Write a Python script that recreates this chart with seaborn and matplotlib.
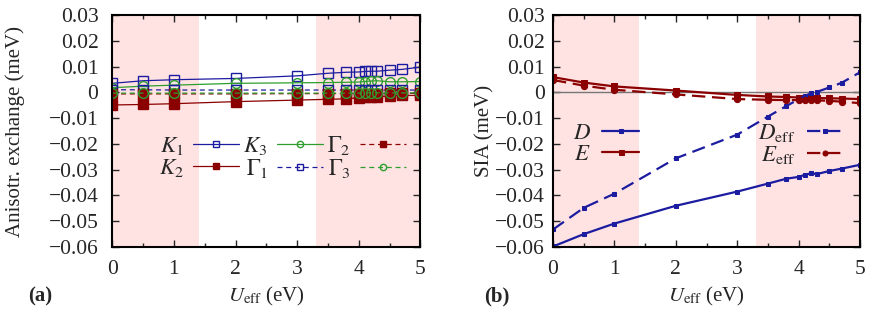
import matplotlib
matplotlib.use('Agg')
import matplotlib.pyplot as plt
import seaborn as sns
import pandas as pd
import numpy as np
from matplotlib.ticker import MultipleLocator, FixedLocator, FixedFormatter

# U_eff values (eV)
u_eff = [0, 0.5, 1, 2, 3, 3.5, 3.8, 4, 4.1, 4.2, 4.3, 4.5, 4.7, 5]

# panel (a): anisotropic exchange (meV)
k1 = [0.0035, 0.0045, 0.0049, 0.0054, 0.0064, 0.0074, 0.0078, 0.0079, 0.0081, 0.0082, 0.0082, 0.0086, 0.0089, 0.0098]
k2 = [-0.0049, -0.0047, -0.0044, -0.0036, -0.0030, -0.0027, -0.0025, -0.0021, -0.0019, -0.0018, -0.0017, -0.0014, -0.0012, -0.0012]
k3 = [0.0018, 0.0024, 0.0028, 0.0035, 0.0037, 0.0038, 0.0039, 0.0040, 0.0042, 0.0044, 0.0045, 0.0041, 0.0041, 0.0042]
gamma1 = [0.0010, 0.0010, 0.0009, 0.0009, 0.0009, 0.0009, 0.0009, 0.0009, 0.0009, 0.0009, 0.0009, 0.0009, 0.0009, 0.0009]
gamma2 = [-0.0006, -0.0006, -0.0006, -0.0006, -0.0005, -0.0005, -0.0005, -0.0005, -0.0005, -0.0005, -0.0005, -0.0004, -0.0004, -0.0004]
gamma3 = [-0.0003, -0.0003, -0.0003, -0.0003, -0.0003, -0.0003, -0.0003, -0.0003, -0.0002, -0.0002, -0.0002, -0.0002, -0.0002, -0.0002]

# panel (b): single-ion anisotropy (meV)
d_sia = [-0.0598, -0.0550, -0.0509, -0.0440, -0.0385, -0.0354, -0.0335, -0.0328, -0.0320, -0.0314, -0.0317, -0.0305, -0.0296, -0.0281]
e_sia = [0.0059, 0.0038, 0.0023, 0.0007, -0.0010, -0.0016, -0.0018, -0.0020, -0.0021, -0.0021, -0.0022, -0.0023, -0.0024, -0.0026]
d_eff = [-0.0532, -0.0448, -0.0393, -0.0256, -0.0164, -0.0094, -0.0053, -0.0027, -0.0014, -0.0004, 0.0002, 0.0019, 0.0037, 0.0078]
e_eff = [0.0048, 0.0026, 0.0010, -0.0008, -0.0026, -0.0029, -0.0030, -0.0030, -0.0031, -0.0031, -0.0031, -0.0033, -0.0036, -0.0042]

shaded = [(0, 1.4), (3.3, 5)]
y_ticks = [0.03, 0.02, 0.01, 0, -0.01, -0.02, -0.03, -0.04, -0.05, -0.06]
y_tick_labels = ['0.03', '0.02', '0.01', '0', '\u22120.01', '\u22120.02', '\u22120.03',
                 '\u22120.04', '\u22120.05', '\u22120.06']

sns.set_style('ticks')
plt.rcParams['font.family'] = ['Liberation Serif', 'DejaVu Serif']
plt.rcParams['mathtext.fontset'] = 'stix'
plt.rcParams['font.size'] = 15

BLUE = '#1c1ca0'
RED = '#8b0000'
GREEN = '#2e9e2e'
PINK = '#ffe3e3'

fig = plt.figure(figsize=(8.72, 3.21), dpi=100)
ax_a = fig.add_axes([0.1288, 0.2305, 0.3532, 0.7227])
ax_b = fig.add_axes([0.6342, 0.2305, 0.3521, 0.7227])

df = pd.DataFrame({'U': u_eff, 'K1': k1, 'K2': k2, 'K3': k3, 'G1': gamma1, 'G2': gamma2,
                   'G3': gamma3, 'D': d_sia, 'E': e_sia, 'Deff': d_eff, 'Eeff': e_eff})


def style_axes(ax, ypad):
    for lo, hi in shaded:
        ax.axvspan(lo, hi, color=PINK, lw=0, zorder=0)
    ax.set_xlim(0, 5)
    ax.set_ylim(-0.06, 0.03)
    ax.xaxis.set_major_locator(MultipleLocator(1))
    ax.xaxis.set_minor_locator(MultipleLocator(0.5))
    ax.yaxis.set_major_locator(FixedLocator(y_ticks))
    ax.yaxis.set_major_formatter(FixedFormatter(y_tick_labels))
    ax.tick_params(which='both', direction='in', top=True, right=True, width=1, labelsize=15.5)
    ax.tick_params(which='major', length=5)
    ax.tick_params(which='minor', length=3)
    ax.tick_params(axis='x', pad=9)
    ax.tick_params(axis='y', pad=ypad)
    for sp in ax.spines.values():
        sp.set_linewidth(1.5)
        sp.set_color('black')
        sp.set_zorder(5)
    ax.set_xlabel(r'$U_{\rm eff}$ (eV)', fontsize=15, labelpad=5)


# panel (a)
series_a = [
    ('K1', r'$K_1$', BLUE, 's', 'none', '-'),
    ('K2', r'$K_2$', RED, 's', RED, '-'),
    ('K3', r'$K_3$', GREEN, 'o', 'none', '-'),
    ('G1', r'$\Gamma_1$', BLUE, 's', 'none', (0, (4, 3))),
    ('G2', r'$\Gamma_2$', RED, 's', RED, (0, (4, 3))),
    ('G3', r'$\Gamma_3$', GREEN, 'o', 'none', (0, (4, 3))),
]
for col, lab, c, m, mfc, ls in series_a:
    sns.lineplot(data=df, x='U', y=col, ax=ax_a, color=c, marker=m, markerfacecolor=mfc,
                 markeredgecolor=c, markersize=7, markeredgewidth=1, linewidth=0.9,
                 linestyle=ls, label=lab)
style_axes(ax_a, 10)
ax_a.set_ylabel('Anisotr. exchange (meV)', fontsize=15)
ax_a.yaxis.set_label_coords(-0.285, 0.5)
h, l = ax_a.get_legend_handles_labels()
ax_a.legend(h, l, ncol=3, markerfirst=False, frameon=False, loc='center',
            bbox_to_anchor=(0.552, 0.39), fontsize=16.5, handlelength=2.0,
            handletextpad=0.4, columnspacing=0.2, labelspacing=0.0,
            borderpad=0, markerscale=0.65)

# panel (b)
ax_b.axhline(0, color='#777777', lw=1, zorder=1)
series_b = [
    ('D', r'$D$', BLUE, 's', '-', 3),
    ('E', r'$E$', RED, 's', '-', 4.5),
    ('Deff', r'$D_{\rm eff}$', BLUE, 's', (0, (6, 3)), 3),
    ('Eeff', r'$E_{\rm eff}$', RED, 'o', (0, (6, 3)), 4.5),
]
for col, lab, c, m, ls, ms in series_b:
    sns.lineplot(data=df, x='U', y=col, ax=ax_b, color=c, marker=m, markerfacecolor=c,
                 markeredgecolor=c, markersize=ms, linewidth=1.6, linestyle=ls, label=lab)
style_axes(ax_b, 6)
ax_b.set_ylabel('SIA (meV)', fontsize=15)
ax_b.yaxis.set_label_coords(-0.19, 0.5)
h, l = ax_b.get_legend_handles_labels()
ax_b.legend(h, l, ncol=2, markerfirst=False, frameon=False, loc='center',
            bbox_to_anchor=(0.505, 0.446), fontsize=16.5, handlelength=1.6,
            handletextpad=0.5, columnspacing=5.2, labelspacing=0.0,
            borderpad=0, markerscale=0.8)

fig.text(0.046, 0.075, '(a)', fontsize=15, fontweight='bold', ha='center', va='center')
fig.text(0.570, 0.075, '(b)', fontsize=15, fontweight='bold', ha='center', va='center')

plt.savefig('out.png', dpi=100)
plt.close()
